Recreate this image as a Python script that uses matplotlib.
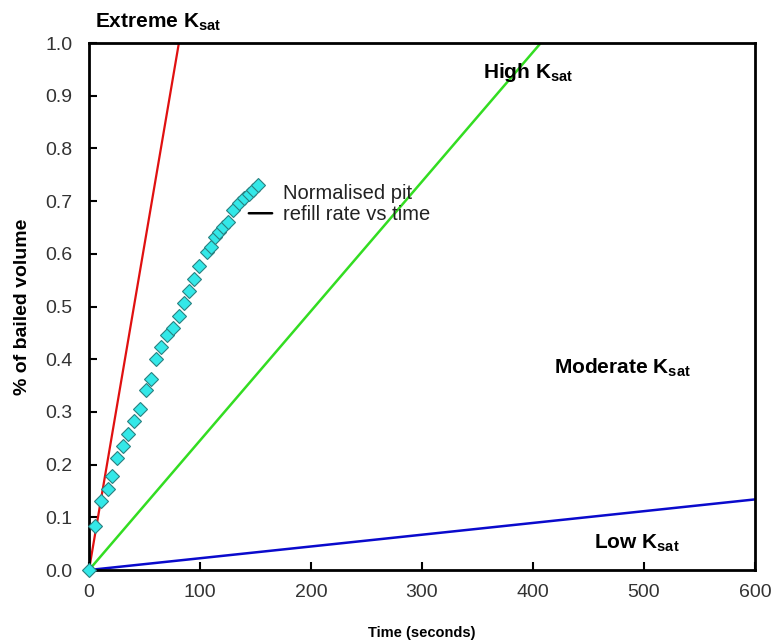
import matplotlib
matplotlib.use('Agg')
import matplotlib.pyplot as plt

plt.rcParams['font.family'] = 'Liberation Sans'
plt.rcParams['mathtext.fontset'] = 'custom'
plt.rcParams['mathtext.rm'] = 'Liberation Sans'
plt.rcParams['mathtext.bf'] = 'Liberation Sans:bold'

# pit refill measurements (seconds, fraction of bailed volume)
time_s = [0, 5, 11, 17, 21, 25.5, 30.5, 35.5, 40.5, 46, 51.5, 55.5, 60.5, 65, 70, 75.5,
          81.5, 86, 90.5, 95, 99.5, 106, 110, 113.5, 117.5, 121, 125.5, 130, 135,
          139.5, 144, 148, 152]
volume = [0.0, 0.084, 0.131, 0.154, 0.178, 0.212, 0.236, 0.259, 0.283, 0.305, 0.342,
          0.362, 0.400, 0.423, 0.446, 0.459, 0.482, 0.506, 0.529, 0.553, 0.577, 0.604,
          0.612, 0.632, 0.641, 0.651, 0.661, 0.684, 0.696, 0.705, 0.713, 0.721, 0.731]

# reference Ksat lines (end points)
extreme_t = [0, 81]
extreme_v = [0, 1.0]
high_t = [0, 407]
high_v = [0, 1.0]
low_t = [0, 600]
low_v = [0, 0.134]

fig = plt.figure(figsize=(7.73, 6.43), dpi=100)
ax = fig.add_axes([0.1151, 0.1135, 0.8616, 0.8196])

ax.plot(extreme_t, extreme_v, color='#e01010', lw=1.6)
ax.plot(high_t, high_v, color='#33dd22', lw=1.8)
ax.plot(low_t, low_v, color='#0a0acc', lw=1.8)
ax.plot(time_s, volume, linestyle='none', marker='D', markersize=7.5,
        markerfacecolor='#33e8e8', markeredgecolor='#2a8080', markeredgewidth=0.8,
        clip_on=False, zorder=5)

ax.set_xlim(0, 600)
ax.set_ylim(0, 1.0)
ax.set_xticks([0, 100, 200, 300, 400, 500, 600])
ax.set_yticks([i / 10 for i in range(11)])
ax.set_yticklabels(['%.1f' % (i / 10) for i in range(11)])
ax.tick_params(direction='in', length=6, width=1.5, labelsize=14, colors='black',
               labelcolor='#333333')
ax.tick_params(axis='x', pad=10)
ax.tick_params(axis='y', pad=12)
for s in ax.spines.values():
    s.set_linewidth(2)

ax.set_xlabel('Time (seconds)', fontsize=10.5, fontweight='bold', labelpad=18)
ax.set_ylabel('% of bailed volume', fontsize=14, fontweight='bold', labelpad=10)

lbl = dict(fontsize=15, fontweight='bold', va='center', ha='left')
ax.text(5, 1.04, r'Extreme K$_{\mathbf{sat}}$', clip_on=False, **lbl)
ax.text(355, 0.945, r'High K$_{\mathbf{sat}}$', **lbl)
ax.text(419, 0.383, r'Moderate K$_{\mathbf{sat}}$', **lbl)
ax.text(455, 0.051, r'Low K$_{\mathbf{sat}}$', **lbl)

ax.text(175, 0.695, 'Normalised pit\nrefill rate vs time', fontsize=14.5,
        va='center', ha='left', color='#222222', linespacing=1.1)
ax.annotate('', xy=(144, 0.677), xytext=(165, 0.677),
            arrowprops=dict(arrowstyle='-', color='black', lw=1.8,
                            shrinkA=0, shrinkB=0))

fig.savefig('out.png', dpi=100)
